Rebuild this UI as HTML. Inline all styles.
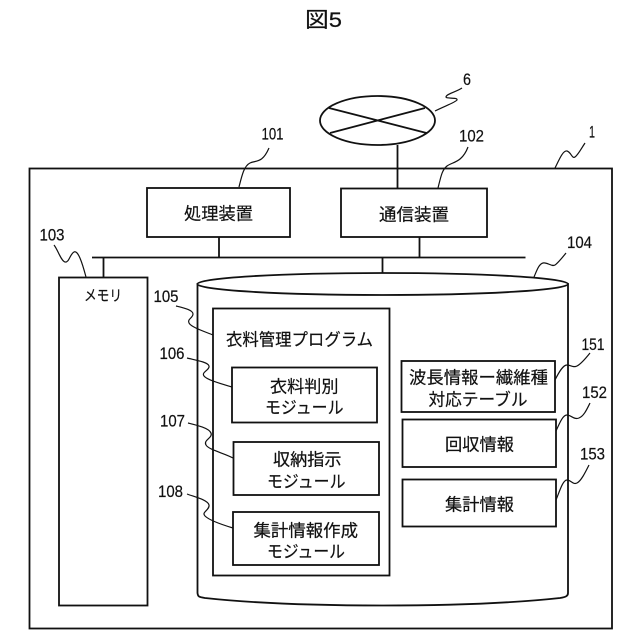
<!DOCTYPE html>
<html><head><meta charset="utf-8"><style>
html,body{margin:0;padding:0;background:#fff}
svg{display:block}
text{font-family:"Liberation Sans","Noto Sans CJK JP",sans-serif;fill:#111;dominant-baseline:central;stroke:#111;stroke-width:.2}
.n{font-size:17px}
.t{font-size:17px}
.b{fill:#fff;stroke:#111;stroke-width:1.8}
.l{fill:none;stroke:#111;stroke-width:1.2}
.c{fill:none;stroke:#111;stroke-width:1.8}
</style></head><body>
<svg width="640" height="640" viewBox="0 0 640 640" xmlns="http://www.w3.org/2000/svg">
<rect width="640" height="640" fill="#fff"/>
<text x="305" y="20.5" font-size="21" textLength="37" lengthAdjust="spacingAndGlyphs">図5</text>

<!-- outer -->
<rect class="b" x="29.5" y="168.5" width="582.5" height="460"/>

<!-- network -->
<line class="c" x1="397.5" y1="145" x2="397.5" y2="188"/>
<ellipse class="b" cx="377.5" cy="120.5" rx="57.5" ry="24.5"/>
<line class="c" x1="329" y1="108" x2="426.5" y2="133"/>
<line class="c" x1="330" y1="133" x2="425" y2="108"/>

<!-- bus -->
<line class="c" x1="92" y1="257.5" x2="525.5" y2="257.5"/>
<line class="c" x1="219" y1="237" x2="219" y2="257"/>
<line class="c" x1="419.5" y1="237" x2="419.5" y2="257"/>
<line class="c" x1="382.5" y1="257" x2="382.5" y2="274"/>
<line class="c" x1="103.5" y1="257" x2="103.5" y2="277"/>

<!-- top boxes -->
<rect class="b" x="147" y="188" width="143" height="49"/>
<rect class="b" x="341" y="188.5" width="146" height="48.5"/>
<text class="t" x="184" y="214" textLength="69" lengthAdjust="spacingAndGlyphs">処理装置</text>
<text class="t" x="379" y="215" textLength="70" lengthAdjust="spacingAndGlyphs">通信装置</text>

<!-- memory -->
<rect class="b" x="59" y="277.5" width="88.5" height="328"/>
<text x="84" y="296" font-size="15" textLength="38" lengthAdjust="spacingAndGlyphs">メモリ</text>

<!-- cylinder -->
<path class="b" d="M197.5 284 V593 C198 597 199 597 205 598 C260 604 330 605.5 382.5 605.5 C435 605.5 505 604 560 598 C566 597 568 596 568 593 V284 Z"/>
<ellipse class="b" cx="382.7" cy="284" rx="185.3" ry="11"/>

<!-- program -->
<rect class="b" x="213" y="308.5" width="176.5" height="267"/>
<text class="t" x="226" y="340" textLength="147" lengthAdjust="spacingAndGlyphs">衣料管理プログラム</text>

<rect class="b" x="232" y="367.5" width="145" height="55"/>
<text class="t" x="270" y="387" textLength="68.5" lengthAdjust="spacingAndGlyphs">衣料判別</text>
<text class="t" x="265" y="408" textLength="78.5" lengthAdjust="spacingAndGlyphs">モジュール</text>

<rect class="b" x="233.5" y="442" width="145.5" height="53"/>
<text class="t" x="273" y="460" textLength="68.5" lengthAdjust="spacingAndGlyphs">収納指示</text>
<text class="t" x="267" y="482" textLength="78.5" lengthAdjust="spacingAndGlyphs">モジュール</text>

<rect class="b" x="233" y="512" width="146" height="53"/>
<text class="t" x="253.5" y="531" textLength="104.5" lengthAdjust="spacingAndGlyphs">集計情報作成</text>
<text class="t" x="267" y="552" textLength="78" lengthAdjust="spacingAndGlyphs">モジュール</text>

<!-- right boxes -->
<rect class="b" x="401.5" y="361" width="153.5" height="51"/>
<text class="t" x="409" y="378" textLength="139" lengthAdjust="spacingAndGlyphs">波長情報ー繊維種</text>
<text class="t" x="428.5" y="400" textLength="99" lengthAdjust="spacingAndGlyphs">対応テーブル</text>

<rect class="b" x="402.5" y="419.5" width="153.5" height="47.5"/>
<text class="t" x="445" y="445" textLength="69" lengthAdjust="spacingAndGlyphs">回収情報</text>

<rect class="b" x="402.5" y="479.5" width="153.5" height="47"/>
<text class="t" x="445" y="505" textLength="69" lengthAdjust="spacingAndGlyphs">集計情報</text>

<!-- leaders -->
<path class="l" d="M435 111 C445 106 456 102 457 100 C458 97 446 99 446 97 C446 94 456 92 462 88"/>
<path class="l" d="M239 187 C242 175 244 166 250 163 S262 164 269 148"/>
<path class="l" d="M438 188 C441 176 442 170 447 166 S462 163 468 147"/>
<path class="l" d="M555 168 C559 160 563 150 567 151 S572 159 575 157 S581 149 585 143"/>
<path class="l" d="M86 277 C82 262 78 250 74 252 S69 263 65 262 S58 250 54 245"/>
<path class="l" d="M534 277 C537 270 539 264 543 263 S552 267 555 265 S562 258 566 253"/>
<path class="l" d="M176 306 C184 308 193 310 193 314 S187 319 189 323 S203 331 213 335"/>
<path class="l" d="M187 358 C195 360 208 362 209 366 S201 372 204 376 S222 384 232 387"/>
<path class="l" d="M188 423 C196 425 209 428 211 433 S203 440 206 445 S224 453 233 458"/>
<path class="l" d="M187 494 C195 497 208 500 209 505 S201 512 205 516 S223 525 233 528"/>
<path class="l" d="M555 380 C559 372 563 365 567 365 S573 368 577 366 S586 358 590 353"/>
<path class="l" d="M556 431 C560 422 563 415 567 415 S574 420 579 418 S587 409 590 403"/>
<path class="l" d="M556 500 C560 490 563 480 567 480 S573 485 577 483 S585 473 589 465"/>

<!-- numbers -->
<text class="n" x="463" y="79.5" textLength="8" lengthAdjust="spacingAndGlyphs">6</text>
<text class="n" x="261.5" y="134" textLength="22" lengthAdjust="spacingAndGlyphs">101</text>
<text class="n" x="459" y="136" textLength="25" lengthAdjust="spacingAndGlyphs">102</text>
<text class="n" x="589" y="132" textLength="6" lengthAdjust="spacingAndGlyphs">1</text>
<text class="n" x="39.5" y="235" textLength="25" lengthAdjust="spacingAndGlyphs">103</text>
<text class="n" x="567" y="242.5" textLength="25" lengthAdjust="spacingAndGlyphs">104</text>
<text class="n" x="153.5" y="296.5" textLength="25" lengthAdjust="spacingAndGlyphs">105</text>
<text class="n" x="159.5" y="353.5" textLength="25" lengthAdjust="spacingAndGlyphs">106</text>
<text class="n" x="160" y="421" textLength="25" lengthAdjust="spacingAndGlyphs">107</text>
<text class="n" x="158" y="491.5" textLength="25" lengthAdjust="spacingAndGlyphs">108</text>
<text class="n" x="581.5" y="344.5" textLength="23" lengthAdjust="spacingAndGlyphs">151</text>
<text class="n" x="582" y="392.5" textLength="25" lengthAdjust="spacingAndGlyphs">152</text>
<text class="n" x="580" y="454" textLength="25" lengthAdjust="spacingAndGlyphs">153</text>
</svg>
</body></html>
